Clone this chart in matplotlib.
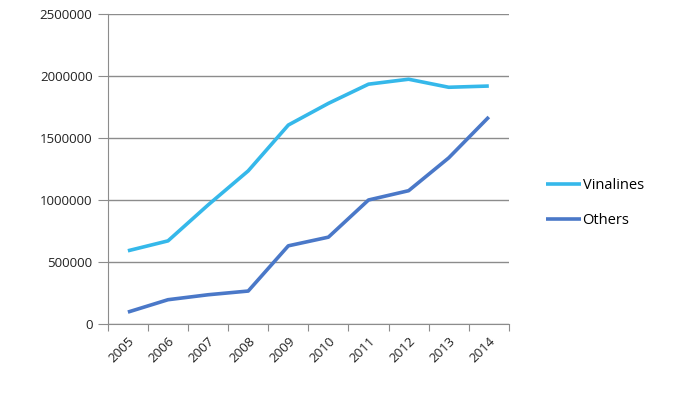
import numpy as np
import matplotlib.pyplot as plt

years = ["2005", "2006", "2007", "2008", "2009", "2010", "2011", "2012", "2013", "2014"]
vinalines = [590000, 670000, 960000, 1235000, 1605000, 1780000, 1935000, 1975000, 1910000, 1920000]
others = [95000, 195000, 235000, 265000, 630000, 700000, 1000000, 1075000, 1340000, 1670000]

plt.rcParams['font.family'] = ['Open Sans', 'DejaVu Sans']

fig = plt.figure(figsize=(6.74, 3.94), dpi=100)
ax = fig.add_axes([0.160, 0.178, 0.595, 0.786])

x = np.arange(len(years))
ax.plot(x, vinalines, color="#35b8ea", lw=2.6, label="Vinalines", solid_capstyle="butt")
ax.plot(x, others, color="#4a78c8", lw=2.6, label="Others", solid_capstyle="butt")

ax.set_xlim(-0.5, len(years) - 0.5)
ax.set_ylim(0, 2500000)
ax.set_yticks(np.arange(0, 2500001, 500000))
ax.set_yticklabels([str(v) for v in range(0, 2500001, 500000)], fontsize=9.5, color="#222222")
ax.yaxis.grid(True, color="#8c8c8c", lw=1)
ax.set_axisbelow(True)

# ticks between categories, labels at centres
ax.set_xticks(np.arange(-0.5, len(years)), minor=False)
ax.set_xticklabels([])
ax.set_xticks(x, minor=True)
ax.set_xticklabels(years, minor=True, rotation=45, ha="right", rotation_mode="anchor",
                   fontsize=9.5, color="#222222")
ax.tick_params(axis="x", which="major", length=5, color="#8c8c8c", direction="out")
ax.tick_params(axis="x", which="minor", length=0, pad=8)
ax.tick_params(axis="y", length=7, color="#8c8c8c", pad=4)

for s in ["top", "right"]:
    ax.spines[s].set_visible(False)
for s in ["left", "bottom"]:
    ax.spines[s].set_color("#8c8c8c")

ax.legend(loc="center left", bbox_to_anchor=(1.06, 0.39), frameon=False, fontsize=10.5,
          handlelength=2.4, labelspacing=1.35, handletextpad=0.1)

fig.savefig("out.png", dpi=100)
